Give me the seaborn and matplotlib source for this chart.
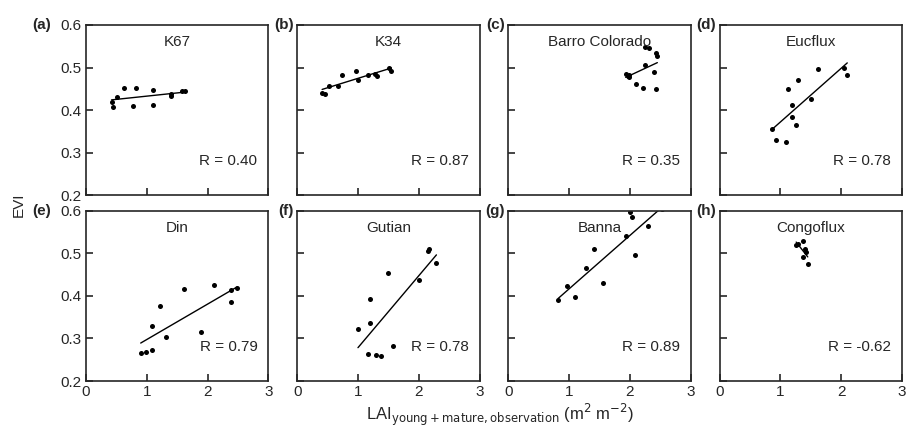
import numpy as np
import pandas as pd
import matplotlib
matplotlib.use("Agg")
import matplotlib.pyplot as plt
import seaborn as sns

sns.set_style("ticks", {"xtick.direction": "in", "ytick.direction": "in"})
plt.rcParams['font.family'] = ['Liberation Sans', 'DejaVu Sans']
plt.rcParams['xtick.direction'] = 'in'
plt.rcParams['ytick.direction'] = 'in'

# LAI (x) and EVI (y) per site
k67_lai = [0.42, 0.45, 0.51, 0.63, 0.77, 0.82, 1.10, 1.10, 1.39, 1.39, 1.58, 1.63]
k67_evi = [0.420, 0.408, 0.430, 0.453, 0.410, 0.453, 0.447, 0.412, 0.439, 0.433, 0.445, 0.444]

k34_lai = [0.41, 0.45, 0.53, 0.67, 0.73, 0.96, 1.00, 1.16, 1.28, 1.31, 1.51, 1.55]
k34_evi = [0.441, 0.438, 0.458, 0.456, 0.482, 0.492, 0.471, 0.482, 0.486, 0.481, 0.500, 0.492]

bci_lai = [1.93, 1.96, 1.98, 1.99, 2.10, 2.21, 2.25, 2.24, 2.32, 2.40, 2.43, 2.43, 2.45]
bci_evi = [0.485, 0.480, 0.482, 0.477, 0.461, 0.453, 0.507, 0.549, 0.547, 0.489, 0.449, 0.535, 0.528]

euc_lai = [0.87, 0.93, 1.10, 1.13, 1.19, 1.19, 1.25, 1.29, 1.51, 1.62, 2.04, 2.10]
euc_evi = [0.356, 0.331, 0.326, 0.451, 0.412, 0.384, 0.366, 0.472, 0.426, 0.496, 0.498, 0.483]

din_lai = [0.90, 0.99, 1.08, 1.09, 1.22, 1.31, 1.62, 1.89, 2.10, 2.39, 2.48, 2.39]
din_evi = [0.266, 0.269, 0.273, 0.329, 0.375, 0.304, 0.415, 0.314, 0.426, 0.414, 0.418, 0.385]

gut_lai = [1.00, 1.19, 1.19, 1.17, 1.30, 1.38, 1.49, 1.57, 2.00, 2.15, 2.17, 2.29]
gut_evi = [0.323, 0.393, 0.337, 0.264, 0.260, 0.259, 0.453, 0.283, 0.438, 0.506, 0.509, 0.478]

ban_lai = [0.82, 0.96, 1.09, 1.28, 1.40, 1.56, 1.93, 2.00, 2.03, 2.08, 2.30, 2.52]
ban_evi = [0.391, 0.422, 0.396, 0.465, 0.509, 0.430, 0.541, 0.596, 0.584, 0.495, 0.563, 0.603]

con_lai = [1.26, 1.29, 1.37, 1.40, 1.42, 1.37, 1.45]
con_evi = [0.518, 0.522, 0.528, 0.510, 0.502, 0.491, 0.475]

sites = ["K67", "K34", "Barro Colorado", "Eucflux", "Din", "Gutian", "Banna", "Congoflux"]
letters = ["(a)", "(b)", "(c)", "(d)", "(e)", "(f)", "(g)", "(h)"]
r_text = ["R = 0.40", "R = 0.87", "R = 0.35", "R = 0.78",
          "R = 0.79", "R = 0.78", "R = 0.89", "R = -0.62"]
xs = [k67_lai, k34_lai, bci_lai, euc_lai, din_lai, gut_lai, ban_lai, con_lai]
ys = [k67_evi, k34_evi, bci_evi, euc_evi, din_evi, gut_evi, ban_evi, con_evi]

fig, axes = plt.subplots(2, 4, figsize=(9.12, 4.28), dpi=100)
plt.subplots_adjust(left=0.0943, right=0.989, top=0.9416, bottom=0.1098,
                    wspace=0.158, hspace=0.088)

for i, ax in enumerate(axes.flat):
    df = pd.DataFrame({"lai": xs[i], "evi": ys[i]})
    sns.regplot(data=df, x="lai", y="evi", ax=ax, ci=None, color="black",
                scatter_kws={"s": 13, "linewidths": 0, "alpha": 1},
                line_kws={"linewidth": 1})
    ax.set_xlim(0, 3)
    ax.set_ylim(0.2, 0.6)
    ax.set_xticks([0, 1, 2, 3])
    ax.set_yticks([0.2, 0.3, 0.4, 0.5, 0.6])
    ax.set_yticklabels(["0.2", "0.3", "0.4", "0.5", "0.6"])
    ax.tick_params(direction="in", length=5, width=1.2, labelsize=11, pad=3)
    for s in ax.spines.values():
        s.set_linewidth(1.2)
    ax.set_xlabel("")
    ax.set_ylabel("")
    if i < 4:
        ax.tick_params(labelbottom=False)
    if i % 4 != 0:
        ax.tick_params(labelleft=False)
    ax.text(0.5, 0.9, sites[i], transform=ax.transAxes, ha="center", va="center", fontsize=11)
    ax.text(0.94, 0.2, r_text[i], transform=ax.transAxes, ha="right", va="center", fontsize=11)
    lx = -0.19 if i % 4 == 0 else -0.02
    ax.text(lx, 1.0, letters[i], transform=ax.transAxes, ha="right", va="center",
            fontsize=11, fontweight="bold")

fig.text(0.021, 0.521, "EVI", rotation=90, ha="center", va="center", fontsize=11)
fig.text(0.548, 0.03, r"LAI$_{\rm young+mature,observation}$ (m$^2$ m$^{-2}$)",
         ha="center", va="center", fontsize=12)

plt.savefig("out.png", dpi=100)
